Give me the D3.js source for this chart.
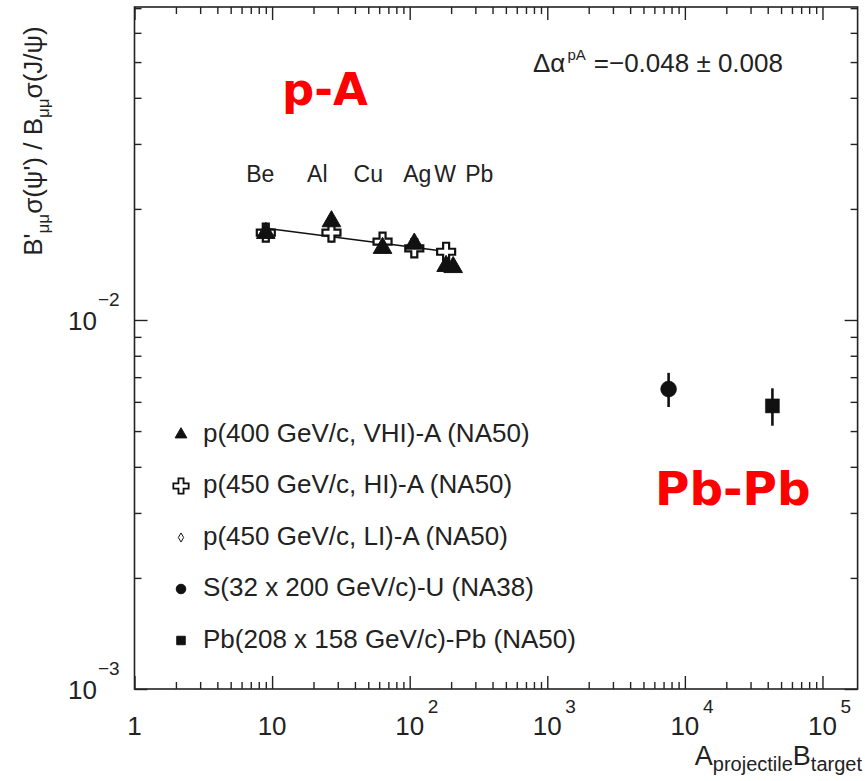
<!DOCTYPE html>
<html>
<head>
<meta charset="utf-8">
<script src="https://cdn.jsdelivr.net/npm/d3@7"></script>
<style>
  body { margin: 0; background: #fff; }
  svg text { font-family: "Liberation Sans", Arial, Helvetica, sans-serif; fill: #222; }
</style>
</head>
<body>
<div id="chart"></div>
<script>
/* p-A data: target mass number A and psi'/J/psi ratio, one array per beam setting */
const vhiA = [9, 27, 63.5, 108, 184, 207];
const vhiRatio = [0.01720, 0.01850, 0.01567, 0.01609, 0.01400, 0.01390];
const hiA = [9, 27, 63.5, 108, 184];
const hiRatio = [0.01724, 0.01724, 0.01630, 0.01564, 0.01531];
const liA = [9, 27, 63.5, 108, 184];
const liRatio = [0.01705, 0.01690, 0.01612, 0.01560, 0.01518];

/* target names written above the p-A points, at these A values */
const elemLabels = ["Be", "Al", "Cu", "Ag", "W", "Pb"];
const elemLabelAt = [8.2, 21.3, 50, 113.5, 181, 320];

/* nucleus-nucleus: A_proj x B_target, ratio and its error */
const aaAB = [32 * 238, 208 * 208];
const aaRatio = [0.00650, 0.00585];
const aaErr = [0.00069, 0.00068];

/* power-law fit through the p-A points */
const fitC = 0.0197;
const fitAlpha = -0.048;
const fitRange = [9, 184];

/* axis labels */
const xTicks = [1, 10, 100, 1000, 10000, 100000];
const xTickExp = ["", "", "2", "3", "4", "5"];
const yTicks = [0.001, 0.01];
const yTickExp = ["\u22123", "\u22122"];

/* legend rows */
const legendSymbols = ["triangle", "cross", "diamond", "circle", "square"];
const legendNames = [
  "p(400 GeV/c, VHI)-A (NA50)",
  "p(450 GeV/c, HI)-A (NA50)",
  "p(450 GeV/c, LI)-A (NA50)",
  "S(32 x 200 GeV/c)-U (NA38)",
  "Pb(208 x 158 GeV/c)-Pb (NA50)"
];

const W = 865, H = 781;
const frame = { left: 134.5, right: 857.6, top: 7, bottom: 689 };

const svg = d3.select("#chart").append("svg")
  .attr("width", W)
  .attr("height", H);

const x = d3.scaleLog().domain([1, 1.8e5]).range([frame.left, frame.right]);
const y = d3.scaleLog().domain([1e-3, 0.0705]).range([frame.bottom, frame.top]);

/* major and minor tick values per decade */
function logTicks(scale) {
  const [lo, hi] = scale.domain();
  const major = [], minor = [];
  for (let d = Math.floor(Math.log10(lo)); d <= Math.ceil(Math.log10(hi)); d++) {
    for (let k = 1; k < 10; k++) {
      const v = k * Math.pow(10, d);
      if (v < lo * 0.999 || v > hi * 1.001) continue;
      (k === 1 ? major : minor).push(v);
    }
  }
  return { major, minor };
}
const xt = logTicks(x), yt = logTicks(y);

function tickAxis(axisFn, scale, values, size, transform) {
  const g = svg.append("g")
    .attr("transform", transform)
    .call(axisFn(scale).tickValues(values).tickSize(size).tickFormat(""));
  g.select(".domain").remove();
  g.selectAll("line").attr("stroke", "#222").attr("stroke-width", 1.4);
}
tickAxis(d3.axisBottom, x, xt.major, -13, "translate(0," + frame.bottom + ")");
tickAxis(d3.axisBottom, x, xt.minor, -7, "translate(0," + frame.bottom + ")");
tickAxis(d3.axisTop, x, xt.major, -13, "translate(0," + frame.top + ")");
tickAxis(d3.axisTop, x, xt.minor, -7, "translate(0," + frame.top + ")");
tickAxis(d3.axisLeft, y, yt.major, -13, "translate(" + frame.left + ",0)");
tickAxis(d3.axisLeft, y, yt.minor, -7, "translate(" + frame.left + ",0)");
tickAxis(d3.axisRight, y, yt.major, -13, "translate(" + frame.right + ",0)");
tickAxis(d3.axisRight, y, yt.minor, -7, "translate(" + frame.right + ",0)");

svg.append("rect")
  .attr("x", frame.left).attr("y", frame.top)
  .attr("width", frame.right - frame.left)
  .attr("height", frame.bottom - frame.top)
  .attr("fill", "none")
  .attr("stroke", "#222")
  .attr("stroke-width", 1.6);

/* x tick labels */
xTicks.forEach(function (v, i) {
  const px = x(v);
  svg.append("text")
    .attr("x", px).attr("y", 735)
    .attr("text-anchor", "middle")
    .style("font-size", "26px")
    .text(v === 1 ? "1" : "10");
  if (xTickExp[i]) {
    svg.append("text")
      .attr("x", px + 18).attr("y", 713)
      .style("font-size", "19px")
      .text(xTickExp[i]);
  }
});

/* y tick labels */
yTicks.forEach(function (v, i) {
  const py = y(v);
  svg.append("text")
    .attr("x", 97).attr("y", py + 10)
    .attr("text-anchor", "end")
    .style("font-size", "26px")
    .text("10");
  svg.append("text")
    .attr("x", 98).attr("y", py - 14)
    .style("font-size", "19px")
    .text(yTickExp[i]);
});

/* axis titles */
const xTitle = svg.append("text")
  .attr("x", 862).attr("y", 765)
  .attr("text-anchor", "end")
  .style("font-size", "27px");
xTitle.append("tspan").text("A");
xTitle.append("tspan").attr("dy", 6).style("font-size", "20px").text("projectile");
xTitle.append("tspan").attr("dy", -6).text("B");
xTitle.append("tspan").attr("dy", 6).style("font-size", "20px").text("target");

const yTitle = svg.append("text")
  .attr("transform", "translate(42,141) rotate(-90)")
  .attr("text-anchor", "middle")
  .style("font-size", "26px");
yTitle.append("tspan").text("B'");
yTitle.append("tspan").attr("dy", 7).style("font-size", "17px").text("\u03bc\u03bc");
yTitle.append("tspan").attr("dy", -7).text("\u03c3(\u03c8') / B");
yTitle.append("tspan").attr("dy", 7).style("font-size", "17px").text("\u03bc\u03bc");
yTitle.append("tspan").attr("dy", -7).text("\u03c3(J/\u03c8)");

/* fit line */
const fitLine = d3.line()
  .x(function (a) { return x(a); })
  .y(function (a) { return y(fitC * Math.pow(a, fitAlpha)); });
svg.append("path")
  .attr("d", fitLine(fitRange))
  .attr("fill", "none")
  .attr("stroke", "#111")
  .attr("stroke-width", 1.6);

const symbolType = {
  triangle: d3.symbolTriangle,
  cross: d3.symbolCross,
  diamond: d3.symbolDiamond,
  circle: d3.symbolCircle,
  square: d3.symbolSquare
};

function drawPoints(xs, ys, type, size, fill, strokeWidth) {
  svg.append("g").selectAll("path")
    .data(xs.map(function (a, i) { return { a: a, r: ys[i] }; }))
    .enter()
    .append("path")
    .attr("transform", function (d) { return "translate(" + x(d.a) + "," + y(d.r) + ")"; })
    .attr("d", d3.symbol().type(symbolType[type]).size(size))
    .attr("fill", fill)
    .attr("stroke", "#111")
    .attr("stroke-width", strokeWidth);
}

drawPoints(liA, liRatio, "diamond", 40, "#fff", 1.5);
drawPoints(hiA, hiRatio, "cross", 180, "#fff", 2.2);
drawPoints(vhiA, vhiRatio, "triangle", 150, "#111", 1);

/* nucleus-nucleus points with error bars */
svg.append("g").selectAll("line")
  .data(aaAB)
  .enter()
  .append("line")
  .attr("x1", function (d) { return x(d); })
  .attr("x2", function (d) { return x(d); })
  .attr("y1", function (d, i) { return y(aaRatio[i] + aaErr[i]); })
  .attr("y2", function (d, i) { return y(aaRatio[i] - aaErr[i]); })
  .attr("stroke", "#111")
  .attr("stroke-width", 2.6);
drawPoints([aaAB[0]], [aaRatio[0]], "circle", 200, "#111", 0.5);
drawPoints([aaAB[1]], [aaRatio[1]], "square", 196, "#111", 0.5);

/* target names */
svg.append("g").selectAll("text")
  .data(elemLabels)
  .enter()
  .append("text")
  .attr("x", function (d, i) { return x(elemLabelAt[i]); })
  .attr("y", 182)
  .attr("text-anchor", "middle")
  .style("font-size", "23px")
  .text(function (d) { return d; });

/* fit result */
const fitText = svg.append("text")
  .attr("x", 533).attr("y", 72)
  .style("font-size", "26px");
fitText.append("tspan").text("\u0394\u03b1");
fitText.append("tspan").attr("dy", -12).attr("dx", 2).style("font-size", "15px").text("pA");
fitText.append("tspan").attr("dy", 12).attr("dx", 8).text("=\u22120.048 \u00b1 0.008");

/* legend */
const legendSizes = { triangle: 60, cross: 130, diamond: 24, circle: 72, square: 72 };
const legendFill = { triangle: "#111", cross: "#fff", diamond: "#fff", circle: "#111", square: "#111" };
const legend = svg.append("g").selectAll("g")
  .data(legendNames)
  .enter()
  .append("g")
  .attr("transform", function (d, i) { return "translate(181," + (441.5 + i * 51.5) + ")"; });
legend.append("path")
  .attr("transform", "translate(0,-7)")
  .attr("d", function (d, i) {
    const t = legendSymbols[i];
    return d3.symbol().type(symbolType[t]).size(legendSizes[t])();
  })
  .attr("fill", function (d, i) { return legendFill[legendSymbols[i]]; })
  .attr("stroke", "#111")
  .attr("stroke-width", function (d, i) { return legendSymbols[i] === "cross" ? 1.8 : 1; });
legend.append("text")
  .attr("x", 22)
  .attr("y", 0)
  .style("font-size", "26px")
  .text(function (d) { return d; });

/* system labels */
svg.append("text")
  .attr("x", 282).attr("y", 105)
  .style("font-family", "'DejaVu Sans', sans-serif")
  .style("font-weight", "bold")
  .style("font-size", "45px")
  .style("fill", "#ff0000")
  .text("p-A");
svg.append("text")
  .attr("x", 655).attr("y", 505)
  .style("font-family", "'DejaVu Sans', sans-serif")
  .style("font-weight", "bold")
  .style("font-size", "47px")
  .style("fill", "#ff0000")
  .text("Pb-Pb");
</script>
</body>
</html>
